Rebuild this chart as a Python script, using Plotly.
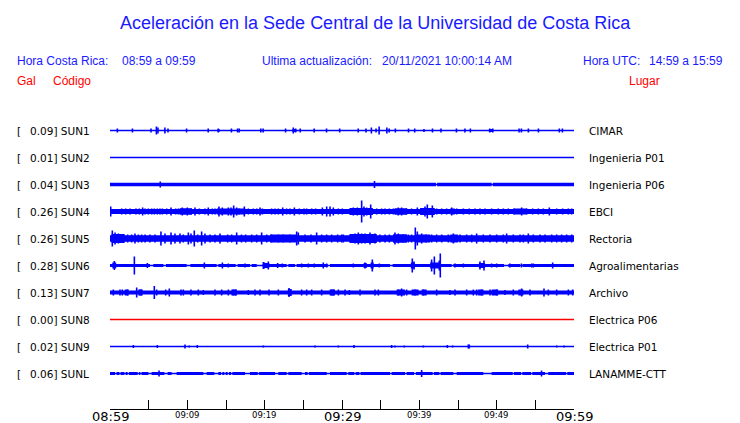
import plotly.graph_objects as go

# ---------------- data ----------------
stations = ["SUN1", "SUN2", "SUN3", "SUN4", "SUN5", "SUN6", "SUN7", "SUN8", "SUN9", "SUNL"]
peaks_gal = ["0.09", "0.01", "0.04", "0.26", "0.26", "0.28", "0.13", "0.00", "0.02", "0.06"]
places = ["CIMAR", "Ingenieria P01", "Ingenieria P06", "EBCI", "Rectoria",
          "Agroalimentarias", "Archivo", "Electrica P06", "Electrica P01", "LANAMME-CTT"]
online = [True, True, True, True, True, True, True, False, True, True]

# background noise half-amplitude of each record (display units)
noise = [0.0, 0.0, 1.75, 2.4, 3.3, 1.6, 2.0, 0.0, 0.0, 1.4]

# minutes after 08:59, half-amplitude
spikes_sun1 = [(0.95, 2), (2.9, 2), (5.3, 2), (6.0, 4), (6.2, 3), (7.1, 3), (7.5, 2), (9.9, 2),
               (12.7, 2), (14.0, 2), (15.7, 2), (16.5, 2), (16.7, 2), (19.5, 2), (19.8, 2),
               (22.7, 2), (23.7, 3), (24.0, 2), (24.6, 2), (26.4, 2), (28.0, 2), (29.7, 2),
               (32.1, 2), (33.1, 2), (33.8, 3), (34.4, 2), (34.8, 4), (35.8, 3), (36.1, 2),
               (36.9, 2), (38.6, 2), (39.4, 2), (40.6, 1.5), (41.7, 2), (42.8, 2), (44.8, 2),
               (45.9, 2), (46.6, 2), (49.1, 2), (49.5, 2), (52.9, 2), (53.2, 2), (54.1, 2),
               (55.4, 2), (58.1, 2), (58.5, 2)]
spikes_sun2 = []
spikes_sun3 = [(6.5, 3), (34.2, 3.5)]
spikes_sun4 = [(0.09, 5), (1.51, 3), (2.03, 3), (2.59, 3), (3.36, 3), (3.79, 3), (4.22, 4),
               (4.53, 3), (4.96, 3), (5.39, 3), (5.73, 3), (6.12, 3), (6.46, 3), (6.77, 3),
               (7.33, 3), (7.89, 4), (8.49, 3), (8.84, 3), (9.35, 4), (10.0, 4), (10.47, 3),
               (10.99, 4), (11.55, 3), (12.28, 3), (12.71, 4), (13.23, 3), (13.58, 3),
               (14.09, 5), (14.52, 4), (15.3, 4), (15.65, 4), (15.99, 6), (16.38, 4),
               (16.68, 3), (17.37, 5), (17.89, 3), (18.53, 3), (18.97, 3), (19.4, 4),
               (19.7, 3), (20.9, 3), (21.34, 3), (21.77, 3), (22.33, 4), (22.84, 3),
               (23.28, 3), (23.84, 4), (24.48, 3), (25.09, 3), (25.43, 3), (26.08, 3),
               (26.59, 3), (27.46, 4), (28.02, 5), (28.45, 5), (28.88, 4), (29.53, 3),
               (30.04, 3), (31.03, 3), (31.46, 4), (31.98, 4), (32.54, 11), (32.84, 5),
               (33.19, 4), (33.71, 7), (34.48, 3), (35.13, 3), (35.56, 3), (36.12, 3),
               (36.64, 3), (37.28, 4), (37.71, 4), (38.36, 3), (39.0, 3), (39.74, 4),
               (40.3, 3), (40.73, 5), (41.03, 7), (41.68, 6), (42.24, 3), (42.89, 3),
               (43.53, 3), (44.18, 4), (44.83, 3), (45.69, 3), (46.46, 3), (47.2, 3),
               (47.84, 3), (48.49, 3), (49.35, 3), (50.21, 3), (50.86, 3), (51.51, 3),
               (52.24, 3), (53.23, 4), (53.88, 3), (54.65, 3), (55.39, 3), (56.03, 3),
               (56.81, 4), (57.76, 3), (58.53, 3), (59.27, 3), (59.7, 3)]
spikes_sun5 = [(0.3, 8), (0.65, 6), (1.08, 5), (1.72, 4), (2.28, 4), (2.8, 4), (3.23, 5),
               (3.66, 4), (4.09, 4), (4.53, 4), (5.17, 4), (5.82, 4), (6.59, 7), (7.11, 5),
               (7.89, 6), (8.4, 5), (9.05, 5), (9.48, 4), (10.13, 6), (10.47, 5), (10.9, 8),
               (11.34, 4), (11.85, 7), (12.28, 5), (12.93, 4), (13.58, 4), (14.22, 5),
               (15.22, 4), (15.73, 4), (16.38, 6), (17.0, 4), (17.54, 4), (18.32, 4),
               (18.97, 4), (19.61, 6), (20.26, 4), (20.9, 4), (21.77, 4), (22.41, 4),
               (23.28, 4), (24.14, 7), (24.35, 6), (25.22, 4), (25.99, 4), (26.72, 6),
               (27.37, 4), (28.02, 4), (28.66, 4), (29.44, 4), (29.96, 4), (30.17, 4),
               (31.03, 4), (31.68, 5), (32.11, 6), (32.54, 5), (32.97, 5), (33.62, 6),
               (34.27, 5), (34.91, 4), (35.56, 4), (36.12, 4), (36.85, 6), (37.28, 5),
               (37.93, 4), (38.58, 4), (39.0, 4), (39.48, 11), (39.74, 7), (40.3, 5),
               (40.86, 4), (41.59, 4), (42.24, 4), (42.89, 4), (43.75, 4), (44.4, 5),
               (45.26, 4), (46.12, 4), (46.77, 4), (47.41, 5), (48.27, 4), (49.14, 4),
               (50.0, 4), (50.86, 4), (51.29, 5), (52.15, 4), (53.02, 4), (53.45, 4),
               (54.09, 5), (54.74, 4), (55.6, 4), (56.25, 4), (57.11, 4), (57.76, 4),
               (58.4, 4), (59.05, 4), (59.7, 4)]
spikes_sun6 = [(0.56, 4.5), (3.15, 9), (4.83, 2.5), (12.2, 3), (14.53, 3), (15.3, 2),
               (17.46, 2), (19.83, 3.5), (19.96, 3), (20.47, 4), (21.68, 2.5), (22.28, 2),
               (24.78, 2), (25.65, 2), (26.42, 2), (27.58, 3), (28.02, 2), (31.46, 2),
               (32.97, 3), (33.92, 6), (34.83, 2), (39.09, 7), (39.31, 4), (41.59, 6),
               (41.94, 9), (42.58, 5), (42.71, 12), (44.61, 2), (45.69, 2), (47.84, 4),
               (48.36, 5), (49.35, 2), (50.0, 2), (51.7, 2), (53.2, 2), (54.53, 2),
               (54.74, 2), (57.24, 3)]
spikes_sun7 = [(0.43, 3), (1.29, 3), (1.59, 3), (2.28, 3), (3.45, 5), (3.88, 3), (4.09, 3),
               (5.73, 6.5), (6.03, 3), (7.2, 3), (7.67, 4), (9.18, 3), (9.48, 3), (10.47, 3),
               (11.42, 3), (12.07, 2.5), (13.58, 3), (14.44, 3), (15.3, 3), (15.95, 3),
               (16.25, 3), (17.89, 2.5), (18.75, 3), (19.4, 3), (20.56, 3), (21.77, 3),
               (23.15, 4.5), (23.32, 3), (24.78, 3), (25.43, 3), (26.08, 3), (27.37, 3),
               (28.66, 3), (28.88, 3), (29.53, 3), (30.39, 3), (30.95, 2.5), (32.33, 3),
               (34.27, 3), (34.7, 3), (37.28, 3), (37.71, 4), (38.36, 3), (39.44, 3),
               (40.52, 3), (42.24, 3), (43.96, 2.5), (44.61, 3), (46.12, 3), (46.98, 3),
               (47.41, 3), (48.06, 3), (49.14, 3), (50.0, 3), (51.08, 2.5), (52.15, 3),
               (53.23, 4), (54.31, 3), (56.12, 4), (56.68, 3), (57.76, 3), (59.27, 3),
               (59.83, 3)]
spikes_sun8 = []
spikes_sun9 = [(3.02, 1.5), (6.12, 1.5), (9.7, 2), (10.26, 1), (11.29, 1.5), (19.83, 1),
               (26.51, 1), (29.53, 1), (31.55, 1.5), (36.42, 1.5), (36.85, 1), (38.06, 1),
               (40.52, 1), (43.62, 1.5), (44.31, 1), (46.33, 2), (46.46, 2), (54.01, 2),
               (57.76, 1), (58.71, 1)]
spikes_sunl = [(6.34, 3), (40.3, 3.5), (55.8, 3)]
spikes = [spikes_sun1, spikes_sun2, spikes_sun3, spikes_sun4, spikes_sun5,
          spikes_sun6, spikes_sun7, spikes_sun8, spikes_sun9, spikes_sunl]

# stronger-shaking stretches: start, end, half-amplitude
bursts = [
    [(13.9, 14.2, 1.3), (23.6, 24.1, 1.5), (49.0, 49.5, 1.5)],
    [],
    [],
    [(9.0, 10.6, 3.2), (13.8, 17.5, 3.0), (31.0, 34.0, 3.6), (36.8, 38.4, 3.2),
     (40.1, 42.0, 3.4), (44.0, 44.6, 3.0), (52.2, 53.9, 3.0)],
    [(0.2, 1.9, 4.5), (20.7, 24.1, 4.0), (31.0, 34.5, 4.5), (36.6, 38.4, 4.3),
     (39.4, 41.4, 4.0), (44.0, 45.0, 4.0)],
    [(0.3, 0.8, 3.0), (19.8, 20.6, 2.6), (32.8, 33.2, 2.5), (33.7, 34.1, 3.0),
     (38.9, 39.4, 3.0), (41.4, 42.8, 3.0), (47.7, 48.5, 2.5)],
    [(1.9, 2.4, 3.0), (3.66, 4.18, 3.0), (15.7, 16.4, 3.0), (23.0, 23.5, 3.5),
     (28.4, 29.1, 3.0), (37.07, 38.15, 3.0), (39.0, 39.9, 3.0), (40.3, 40.95, 3.0),
     (47.6, 48.3, 3.0), (49.35, 50.2, 3.0), (52.8, 53.45, 3.0)],
    [],
    [],
    [],
]

# calm stretches where only the trace line remains: start, end
quiet = [
    [],
    [],
    [(42.15, 42.3), (49.35, 49.5)],
    [],
    [],
    [(5.17, 5.6), (6.9, 7.24), (9.91, 10.39), (13.79, 14.01), (16.25, 16.51),
     (18.1, 18.32), (18.97, 19.74), (22.84, 23.06), (23.92, 24.14), (28.15, 28.45),
     (36.2, 36.55), (44.18, 44.4), (50.95, 51.51), (53.02, 53.36)],
    [],
    [],
    [],
    [(0.65, 0.86), (1.21, 1.38), (1.85, 2.03), (2.28, 2.46), (3.58, 3.75), (3.92, 4.09),
     (4.96, 5.39), (7.03, 7.46), (7.97, 8.62), (12.07, 12.5), (13.49, 14.01),
     (14.35, 14.52), (14.78, 14.96), (15.22, 15.39), (15.65, 15.82), (17.46, 18.1),
     (19.1, 19.27), (21.34, 21.77), (22.84, 23.06), (24.78, 25.22), (25.56, 25.73),
     (28.02, 28.45), (30.6, 30.82), (31.59, 31.77), (32.24, 32.41), (36.2, 36.42),
     (38.15, 38.36), (39.31, 39.57), (41.72, 41.9), (42.58, 42.76), (44.4, 44.83),
     (48.27, 49.35), (52.07, 52.24), (53.15, 53.32), (54.44, 54.61), (56.25, 56.68),
     (58.96, 59.14)],
]

tick_minutes = [0, 10, 20, 30, 40, 50, 60]
tick_labels = ["08:59", "09:09", "09:19", "09:29", "09:39", "09:49", "09:59"]

title_text = "Aceleración en la Sede Central de la Universidad de Costa Rica"
local_label, local_range = "Hora Costa Rica:", "08:59 a 09:59"
update_label, update_time = "Ultima actualización:", "20/11/2021 10:00:14 AM"
utc_label, utc_range = "Hora UTC:", "14:59 a 15:59"

# ---------------- layout geometry ----------------
W, H = 740, 423
L, R, T, B = 110, 166, 110, 14
PW, PH = W - L - R, H - T - B
SPACING = 27
TOP_PAD = 20.5
y_top = TOP_PAD
y_bot = TOP_PAD - PH

def px(x):
    return (x - L) / PW

def py(y):
    return (H - B - y) / PH

BLUE = "#0000ff"
RED = "#ff0000"
TXT_BLUE = "#1a1aff"
LABEL_FONT = "DejaVu Sans"
HEAD_FONT = "Liberation Sans, Arial, sans-serif"

def band_pieces(base, brs, qs):
    cuts = {0.0, 60.0}
    for a, b, _ in brs:
        cuts.update([a, b])
    for a, b in qs:
        cuts.update([a, b])
    cuts = sorted(c for c in cuts if 0 <= c <= 60)
    out = []
    for a, b in zip(cuts[:-1], cuts[1:]):
        m = (a + b) / 2
        h = base
        if any(qa <= m <= qb for qa, qb in qs):
            h = 0
        for ba, bb, bh in brs:
            if ba <= m <= bb:
                h = max(h, bh)
        if h <= 0:
            continue
        if out and abs(out[-1][1] - a) < 1e-9 and out[-1][2] == h:
            out[-1] = (out[-1][0], b, h)
        else:
            out.append((a, b, h))
    return out

fig = go.Figure()
for i, st in enumerate(stations):
    c = -SPACING * i
    col = BLUE if online[i] else RED
    # trace line
    fig.add_trace(go.Scatter(x=[0, 60], y=[c, c], mode="lines",
                             line=dict(color=col, width=1.3), hoverinfo="skip"))
    # noise band
    pieces = band_pieces(noise[i], bursts[i], quiet[i])
    if pieces:
        bx, by = [], []
        for a, b, h in pieces:
            bx += [a, b, b, a, a, None]
            by += [c - h, c - h, c + h, c + h, c - h, None]
        fig.add_trace(go.Scatter(x=bx, y=by, mode="lines", fill="toself",
                                 fillcolor=col, line=dict(width=0, color=col),
                                 hoverinfo="skip"))
    # spikes
    if spikes[i]:
        sx, sy = [], []
        for t, a in spikes[i]:
            sx += [t, t, None]
            sy += [c - a, c + a, None]
        fig.add_trace(go.Scatter(x=sx, y=sy, mode="lines",
                                 line=dict(color=col, width=1.6), hoverinfo="skip"))

ann = []
for i, st in enumerate(stations):
    yc = 130.5 + SPACING * i
    ann.append(dict(x=px(15), y=py(yc), text="[", xanchor="left"))
    ann.append(dict(x=px(27.5), y=py(yc), text=f"{peaks_gal[i]}] {st}", xanchor="left"))
    ann.append(dict(x=px(587), y=py(yc), text=places[i], xanchor="left"))
for a in ann:
    a.update(xref="paper", yref="paper", yanchor="middle", showarrow=False,
             font=dict(family=LABEL_FONT, size=10.5, color="black"))

for m, lab in zip(tick_minutes, tick_labels):
    big = m % 30 == 0
    ann.append(dict(x=m, xref="x", y=py(416 if big else 415.3), yref="paper",
                    text=lab, xanchor="center", yanchor="middle", showarrow=False,
                    font=dict(family="DejaVu Sans", size=13 if big else 8.5, color="black")))

def head(x, y, text, color, size=12, anchor="left"):
    ann.append(dict(x=px(x), y=py(y), xref="paper", yref="paper", text=text,
                    xanchor=anchor, yanchor="middle", showarrow=False,
                    font=dict(family=HEAD_FONT, size=size, color=color)))

head(375, 22.5, title_text, TXT_BLUE, size=18, anchor="center")
head(15, 61, local_label, TXT_BLUE)
head(120, 61, local_range, TXT_BLUE)
head(260, 61, update_label, TXT_BLUE)
head(380, 61, update_time, TXT_BLUE)
head(580.5, 61, utc_label, TXT_BLUE)
head(725, 61, utc_range, TXT_BLUE, anchor="right")
head(15, 81, "Gal", RED)
head(50.5, 81, "Código", RED)
head(661.5, 81, "Lugar", RED, anchor="right")

fig.update_layout(
    width=W, height=H,
    margin=dict(l=L, r=R, t=T, b=B, pad=0),
    paper_bgcolor="white", plot_bgcolor="white",
    showlegend=False,
    annotations=ann,
    xaxis=dict(range=[0, 60], showgrid=False, zeroline=False, showline=True,
               linecolor="black", linewidth=1, ticks="inside", ticklen=9,
               tickcolor="black", tickwidth=1, tick0=0, dtick=5,
               showticklabels=False, fixedrange=True),
    yaxis=dict(range=[y_bot, y_top], visible=False, fixedrange=True),
)

fig.write_html("out.html", config={"displayModeBar": False},
               post_script="document.body.style.margin='0';document.body.style.overflow='hidden';")
